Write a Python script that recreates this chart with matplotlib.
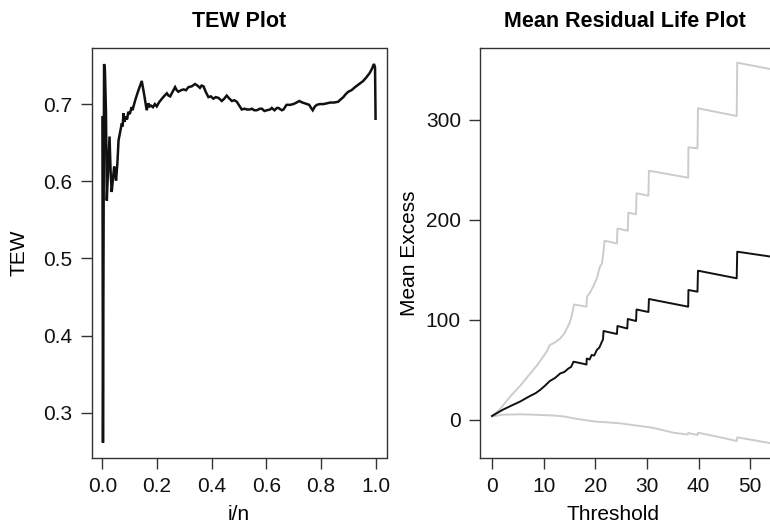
import matplotlib
matplotlib.use("Agg")
import matplotlib.pyplot as plt

plt.rcParams['font.family'] = ['Liberation Sans', 'DejaVu Sans']

# ---- TEW plot data ----
tew_x = [0.000, 0.002, 0.006, 0.009, 0.013, 0.016, 0.020, 0.026, 0.030, 0.034,
         0.039, 0.043, 0.047, 0.050, 0.055, 0.059, 0.065, 0.071, 0.074, 0.077,
         0.080, 0.085, 0.090, 0.095, 0.100, 0.107, 0.110, 0.120, 0.130, 0.144,
         0.153, 0.162, 0.168, 0.173, 0.178, 0.185, 0.192, 0.199, 0.205, 0.211,
         0.218, 0.225, 0.236, 0.242, 0.248, 0.257, 0.266, 0.272, 0.278, 0.288,
         0.297, 0.306, 0.315, 0.327, 0.339, 0.348, 0.357, 0.363, 0.370, 0.378,
         0.388, 0.397, 0.406, 0.415, 0.425, 0.431, 0.437, 0.446, 0.455, 0.465,
         0.474, 0.483, 0.492, 0.501, 0.510, 0.520, 0.529, 0.540, 0.547, 0.556,
         0.565, 0.577, 0.584, 0.593, 0.602, 0.614, 0.620, 0.630, 0.639, 0.644,
         0.657, 0.663, 0.674, 0.687, 0.699, 0.711, 0.721, 0.732, 0.741, 0.749,
         0.757, 0.764, 0.770, 0.778, 0.785, 0.796, 0.809, 0.822, 0.834, 0.848,
         0.863, 0.872, 0.882, 0.891, 0.900, 0.912, 0.925, 0.940, 0.955, 0.967,
         0.978, 0.987, 0.994, 0.998, 1.000]
tew_y = [0.683, 0.261, 0.752, 0.745, 0.690, 0.575, 0.610, 0.658, 0.612, 0.586,
         0.605, 0.619, 0.608, 0.601, 0.625, 0.653, 0.664, 0.675, 0.671, 0.688,
         0.677, 0.684, 0.680, 0.690, 0.687, 0.696, 0.692, 0.705, 0.716, 0.730,
         0.712, 0.692, 0.701, 0.697, 0.698, 0.696, 0.700, 0.697, 0.701, 0.704,
         0.707, 0.710, 0.714, 0.711, 0.710, 0.716, 0.722, 0.718, 0.716, 0.718,
         0.719, 0.718, 0.722, 0.723, 0.726, 0.724, 0.721, 0.724, 0.723, 0.716,
         0.709, 0.710, 0.707, 0.709, 0.708, 0.706, 0.704, 0.707, 0.711, 0.707,
         0.704, 0.705, 0.703, 0.698, 0.693, 0.694, 0.693, 0.693, 0.694, 0.692,
         0.692, 0.694, 0.694, 0.691, 0.692, 0.693, 0.695, 0.692, 0.695, 0.695,
         0.692, 0.693, 0.699, 0.699, 0.700, 0.702, 0.704, 0.702, 0.701, 0.700,
         0.699, 0.695, 0.692, 0.697, 0.699, 0.700, 0.700, 0.701, 0.702, 0.702,
         0.703, 0.706, 0.709, 0.713, 0.716, 0.718, 0.722, 0.726, 0.730, 0.735,
         0.740, 0.746, 0.752, 0.748, 0.681]
tew_xticks = [0.0, 0.2, 0.4, 0.6, 0.8, 1.0]
tew_xticklabels = ["0.0", "0.2", "0.4", "0.6", "0.8", "1.0"]
tew_yticks = [0.3, 0.4, 0.5, 0.6, 0.7]
tew_yticklabels = ["0.3", "0.4", "0.5", "0.6", "0.7"]

# ---- Mean residual life data ----
me_x = [0, 2, 4, 5.4, 7, 8.5, 9.3, 10.2, 11.2, 12.2, 13.2, 14, 14.8, 15.3, 15.8,
        17, 18.3, 18.35, 18.9, 19.3, 19.8, 20.3, 20.8, 21.3, 21.5, 21.6, 24.2,
        24.3, 26.2, 26.3, 27.9, 28.0, 30.3, 30.4, 38.0, 38.05, 39.8, 39.9, 47.4,
        47.5, 53.2, 56.2]
me_y = [3.5, 9.5, 14.5, 17.8, 22.5, 26.5, 29.5, 33.5, 38.5, 41.5, 46, 47.5, 51,
        52.5, 57.8, 56.5, 55, 61, 60, 64.5, 64, 69.5, 72, 78, 80, 88.5, 85.5,
        93.5, 91, 100.5, 98.5, 110, 107.5, 120.5, 112.8, 129.5, 127.8, 148.8,
        141.2, 167.8, 163.5, 161.2]
up_x = [0, 1.5, 3.5, 5.5, 7.4, 8.7, 9.9, 10.6, 11.2, 12.2, 13.2, 14, 14.5, 15,
        15.4, 15.9, 18.3, 18.4, 19.0, 19.6, 20.3, 20.9, 21.3, 21.6, 21.8, 24.2,
        24.3, 26.3, 26.4, 27.9, 28.0, 30.3, 30.4, 38.0, 38.05, 39.8, 39.9, 47.4,
        47.5, 53.2, 56.2]
up_y = [3.5, 10, 22.8, 34, 46, 54, 62.8, 68, 74.5, 77, 81, 86, 91, 96, 102.8,
        115, 112.8, 122.8, 127, 133, 141, 152.8, 156, 167.8, 178.8, 176, 191,
        188.8, 206.8, 205.2, 226.2, 223.8, 248.8, 241.8, 272.2, 271.2, 311.2,
        303.5, 356.8, 351.2, 348.3]
lo_x = [0, 2, 5.4, 8, 11.9, 14, 15.8, 18.3, 20.3, 22.2, 24.8, 27.9, 30.6, 33,
        35.1, 37.9, 38.0, 39.8, 39.9, 43.5, 47.4, 47.5, 53.2, 56.2]
lo_y = [3.0, 4.8, 5.2, 4.8, 4.0, 3.0, 1.2, -0.8, -2.2, -2.8, -3.8, -6, -7.8,
        -10.5, -13.2, -15.0, -13.5, -15.5, -13.2, -17, -21.5, -17.8, -23.0, -25.5]
mrl_xticks = [0, 10, 20, 30, 40, 50]
mrl_yticks = [0, 100, 200, 300]

W, H = 770, 528
fig = plt.figure(figsize=(W / 100, H / 100), dpi=100)

def px_axes(x0, y0, x1, y1):
    return fig.add_axes([x0 / W, 1 - y1 / H, (x1 - x0) / W, (y1 - y0) / H])

spine_col = "#333333"
fs = 15

def style(ax):
    for s in ax.spines.values():
        s.set_color(spine_col)
        s.set_linewidth(1.0)
    ax.tick_params(direction="out", length=8, width=1.0, color=spine_col,
                   labelsize=fs, pad=6, labelcolor="#111111")

# Left panel
ax1 = px_axes(91.5, 48, 386.5, 458)
ax1.plot(tew_x, tew_y, color="#111111", lw=1.8, solid_joinstyle="miter")
ax1.set_xlim(-0.04, 1.04)
ax1.set_ylim(0.2412, 0.7727)
ax1.set_xticks(tew_xticks)
ax1.set_xticklabels(tew_xticklabels)
ax1.set_yticks(tew_yticks)
ax1.set_yticklabels(tew_yticklabels)
style(ax1)
ax1.set_title("TEW Plot", fontsize=15.5, fontweight="bold", pad=15)
ax1.set_xlabel("i/n", fontsize=fs)
ax1.set_ylabel("TEW", fontsize=fs)
ax1.xaxis.set_label_coords(0.5, -0.115)
ax1.yaxis.set_label_coords(-0.215, 0.5)

# Right panel
ax2 = px_axes(480.4, 48, 794, 458)
ax2.plot(up_x, up_y, color="#cccccc", lw=1.4)
ax2.plot(lo_x, lo_y, color="#cccccc", lw=1.4)
ax2.plot(me_x, me_y, color="#111111", lw=1.4)
ax2.set_xlim(-2.25, 58.5)
ax2.set_ylim(-38.5, 371.5)
ax2.set_xticks(mrl_xticks)
ax2.set_yticks(mrl_yticks)
style(ax2)
ax2.set_title("Mean Residual Life Plot", fontsize=15.5, fontweight="bold", pad=15,
              x=(625 - 480.4) / 313.6)
ax2.set_xlabel("Threshold", fontsize=fs)
ax2.set_ylabel("Mean Excess", fontsize=fs)
ax2.xaxis.set_label_coords((613 - 480.4) / 313.6, -0.115)
ax2.yaxis.set_label_coords(-0.197, 0.5)

fig.savefig("out.png", dpi=100)
